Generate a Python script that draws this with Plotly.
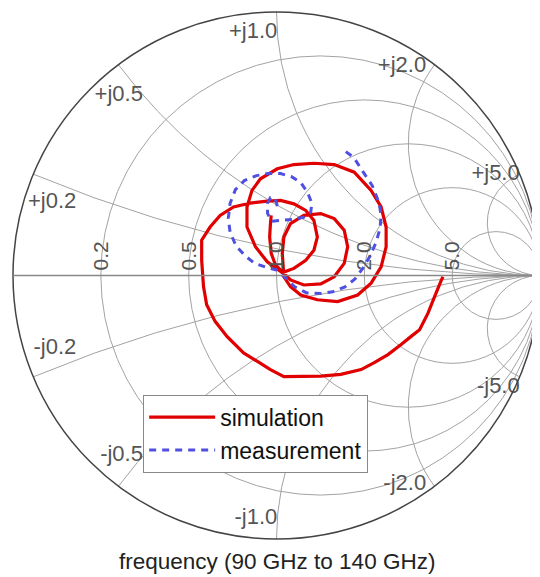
import numpy as np
import plotly.graph_objects as go

sim_gamma_re = [0.632, 0.626, 0.600, 0.575, 0.543, 0.511, 0.473, 0.423, 0.371, 0.321, 0.244, 0.168,
                0.028, -0.023, -0.074, -0.125, -0.188, -0.233, -0.265, -0.277, -0.284, -0.284,
                -0.252, -0.214, -0.163, -0.099, -0.035, 0.015, 0.066, 0.111, 0.142, 0.155, 0.142,
                0.111, 0.066, 0.022,
                -0.035, -0.080, -0.112, -0.112, -0.093, -0.061, 0.003, 0.066, 0.142, 0.219, 0.295,
                0.359, 0.397, 0.416, 0.416, 0.397, 0.359, 0.308, 0.232, 0.155, 0.092, 0.053, 0.028,
                0.022, 0.028, 0.053, 0.104, 0.168, 0.219, 0.257, 0.270, 0.257, 0.219, 0.168, 0.104,
                0.053, 0.028,
                -0.004, -0.020, -0.026, -0.023, -0.020]
sim_gamma_im = [-0.005, -0.017, -0.080, -0.143, -0.206, -0.231, -0.262, -0.300, -0.331, -0.357, -0.375, -0.382,
                -0.384, -0.357, -0.325, -0.294, -0.231, -0.174, -0.111, -0.042, 0.058, 0.134,
                0.184, 0.228, 0.260, 0.275, 0.282, 0.285, 0.272, 0.247, 0.209, 0.146, 0.096,
                0.058, 0.027, 0.011,
                0.052, 0.109, 0.184, 0.260, 0.323, 0.367, 0.405, 0.421, 0.426, 0.421, 0.392,
                0.323, 0.260, 0.184, 0.109, 0.033, -0.029, -0.074, -0.099, -0.092, -0.074, -0.042, -0.005,
                0.084, 0.146, 0.197, 0.228, 0.235, 0.216, 0.172, 0.109, 0.046, -0.005, -0.032, -0.036,
                -0.017, 0.008,
                0.040, 0.084, 0.146, 0.197, 0.228]

meas_gamma_re = [0.263, 0.294, 0.328, 0.363, 0.389, 0.397, 0.393, 0.378, 0.355, 0.328, 0.298, 0.260,
                 0.214, 0.168, 0.115, 0.069, 0.034, 0.000, -0.042, -0.084, -0.118, -0.153, -0.176,
                 -0.183, -0.176, -0.156, -0.122, -0.076, -0.031, 0.015, 0.057, 0.092, 0.118, 0.134,
                 0.130, 0.103, 0.061, 0.015, -0.019, -0.034, -0.034, -0.023, -0.008, 0.000, 0.004]
meas_gamma_im = [0.470, 0.447, 0.394, 0.342, 0.277, 0.228, 0.179, 0.126, 0.074, 0.028, -0.013, -0.043,
                 -0.062, -0.068, -0.066, -0.043, -0.009, 0.021, 0.032, 0.047, 0.074, 0.111, 0.164,
                 0.217, 0.274, 0.326, 0.360, 0.379, 0.387, 0.387, 0.375, 0.353, 0.315, 0.274,
                 0.240, 0.221, 0.213, 0.209, 0.206, 0.236, 0.274, 0.296, 0.296, 0.277, 0.255]

real_ticks = [0.2, 0.5, 1.0, 2.0, 5.0]
imag_ticks = [-5.0, -2.0, -1.0, -0.5, -0.2, 0.2, 0.5, 1.0, 2.0, 5.0]

# Reactance label anchors (resistance offset along each reactance arc)
label_x = [0.2, 0.5, 1.0, 2.0, 5.0, -0.2, -0.5, -1.0, -2.0, -5.0]
label_r = [0.10, 0.10, 0.08, 0.15, 0.0, 0.10, 0.10, 0.08, 0.15, 0.0]
label_text = ["+j0.2", "+j0.5", "+j1.0", "+j2.0", "+j5.0",
              "-j0.2", "-j0.5", "-j1.0", "-j2.0", "-j5.0"]
label_pos = ["bottom left", "middle left", "middle left", "top left", "middle left",
             "top left", "middle left", "middle left", "bottom left", "bottom left"]


def to_z(re, im):
    g = np.array(re) + 1j * np.array(im)
    z = (1 + g) / (1 - g)
    return z.real, z.imag


sim_r, sim_x = to_z(sim_gamma_re, sim_gamma_im)
meas_r, meas_x = to_z(meas_gamma_re, meas_gamma_im)

FONT = "Liberation Sans, Arial, sans-serif"

fig = go.Figure()
fig.add_trace(go.Scattersmith(
    real=label_r, imag=label_x, text=label_text, mode="text",
    textposition=label_pos, textfont=dict(family=FONT, size=22, color="#555555"),
    showlegend=False, hoverinfo="skip"))
fig.add_trace(go.Scattersmith(
    real=sim_r, imag=sim_x, mode="lines", name="simulation",
    line=dict(color="#e00000", width=3.2)))
fig.add_trace(go.Scattersmith(
    real=meas_r, imag=meas_x, mode="lines", name="measurement",
    line=dict(color="#5050e0", width=3, dash="7px,6px")))

fig.update_layout(
    width=540, height=577,
    margin=dict(l=5, r=8, t=4, b=46),
    paper_bgcolor="white",
    font=dict(family=FONT, color="#222222"),
    smith=dict(
        bgcolor="white",
        domain=dict(x=[0, 1], y=[0, 1]),
        realaxis=dict(
            tickvals=real_ticks, tickformat=".1f", tickangle=-90, ticks="",
            tickfont=dict(family=FONT, size=21, color="#555555"),
            gridcolor="#a3a3a3", gridwidth=1,
            showline=True, linecolor="#888888", linewidth=1.5),
        imaginaryaxis=dict(
            tickvals=imag_ticks, showticklabels=False, ticks="",
            gridcolor="#a3a3a3", gridwidth=1,
            showline=True, linecolor="#444444", linewidth=1.5),
    ),
    legend=dict(
        x=0.247, y=0.274, xanchor="left", yanchor="top",
        bgcolor="white", bordercolor="#888888", borderwidth=1,
        font=dict(family=FONT, size=23, color="#111111"),
        itemwidth=66),
    annotations=[dict(
        text="frequency (90 GHz to 140 GHz)", xref="paper", yref="paper",
        x=0.501, y=-0.0436, xanchor="center", yanchor="middle", showarrow=False,
        font=dict(family=FONT, size=22.5, color="#222222"))],
)

fig.write_html("out.html")
